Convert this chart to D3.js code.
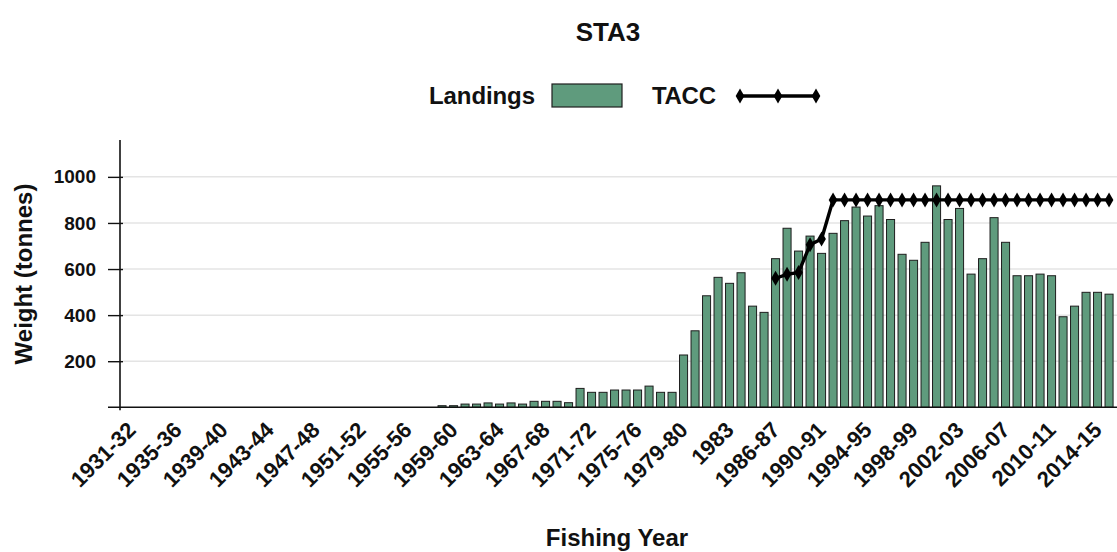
<!DOCTYPE html>
<html>
<head>
<meta charset="utf-8">
<script src="https://cdn.jsdelivr.net/npm/d3@7"></script>
<style>
  html, body { margin: 0; padding: 0; background: #fff; }
  svg { display: block; }
  text { font-family: "Liberation Sans", Arial, sans-serif; font-weight: bold; fill: #111; }
</style>
</head>
<body>
<svg id="chart" width="1117" height="552"></svg>
<script>
// ---- data ----
const years = [];
for (let y = 1931; y <= 1982; y++) years.push(y + "-" + String((y + 1) % 100).padStart(2, "0"));
years.push("1983", "1984", "1985", "1986");
for (let y = 1986; y <= 2015; y++) years.push(y + "-" + String((y + 1) % 100).padStart(2, "0"));

const landings = [
  0,0,0,0,0,0,0,0,0,0, 0,0,0,0,0,0,0,0,0,0, 0,0,0,0,0,0,0,
  7,7,14,14,19,14,19,14,26,26,26,20,
  82,65,65,75,75,75,92,65,65,
  227,332,484,564,538,584,439,412,
  645,777,678,743,668,755,810,869,830,875,815,664,638,716,961,815,863,578,645,823,716,571,571,578,571,393,439,499,499,491
];

const taccYears = years.slice(56);
const tacc = [560,577,585,705,730,900,900,900,900,900,900,900,900,900,900,900,900,900,900,900,900,900,900,900,900,900,900,900,900,900];

const yTicks = [200, 400, 600, 800, 1000];
const xTickLabels = years.filter((d, i) => i % 4 === 0);

// ---- drawing ----
const svg = d3.select("#chart");
const W = 1117, H = 552;
const x = d3.scaleBand().domain(years).range([125.8, 1114.8]).paddingInner(0.3).paddingOuter(0.15);
const y = d3.scaleLinear().domain([0, 1160]).range([407.3, 140]);
const axisLeftX = 120;

// gridlines
svg.append("g").selectAll("line").data(yTicks).join("line")
  .attr("x1", axisLeftX).attr("x2", W)
  .attr("y1", d => y(d)).attr("y2", d => y(d))
  .attr("stroke", "#e4e4e4").attr("stroke-width", 1.5);

// bars
svg.append("g").selectAll("rect").data(landings.map((v, i) => ({k: years[i], v})).filter(d => d.v > 0)).join("rect")
  .attr("x", d => x(d.k))
  .attr("width", x.bandwidth())
  .attr("y", d => y(d.v))
  .attr("height", d => y(0) - y(d.v))
  .attr("fill", "#5f9b7d")
  .attr("stroke", "#1e1e1e")
  .attr("stroke-width", 1);

// y axis
const yAxis = d3.axisLeft(y).tickValues(yTicks).tickFormat(d3.format("d")).tickSize(10).tickPadding(14);
const gy = svg.append("g").attr("transform", `translate(${axisLeftX},0)`).call(yAxis);
gy.select(".domain").attr("d", `M0,${y(1160)}V${y(0) + 3}`).attr("stroke", "#111").attr("stroke-width", 1.6);
gy.selectAll(".tick line").attr("stroke", "#111").attr("stroke-width", 1.4).attr("x2", -12).attr("x1", 3);
gy.selectAll(".tick text").attr("font-size", 19).attr("font-family", "Liberation Sans, Arial, sans-serif").attr("font-weight", "bold").attr("fill", "#111");

// x axis
const xAxis = d3.axisBottom(x).tickValues(xTickLabels).tickSize(0).tickPadding(0);
const gx = svg.append("g").attr("transform", `translate(0,${y(0)})`).call(xAxis);
gx.select(".domain").attr("d", `M108,0H${W}`).attr("stroke", "#111").attr("stroke-width", 1.6);
gx.selectAll(".tick text")
  .attr("font-size", 22).attr("font-family", "Liberation Sans, Arial, sans-serif").attr("font-weight", "bold").attr("fill", "#111")
  .attr("text-anchor", "end")
  .attr("dy", 0).attr("y", 0)
  .attr("transform", "translate(5.5,24) rotate(-45)");

// TACC line
const cx = d => x(d) + x.bandwidth() / 2;
const line = d3.line().x(d => cx(d.k)).y(d => y(d.v));
const taccData = tacc.map((v, i) => ({k: taccYears[i], v}));
svg.append("path").datum(taccData).attr("d", line)
  .attr("fill", "none").attr("stroke", "#000").attr("stroke-width", 3.4);
const diamond = d3.symbol().type(d3.symbolDiamond).size(65);
svg.append("g").selectAll("path").data(taccData).join("path")
  .attr("d", diamond)
  .attr("transform", d => `translate(${cx(d.k)},${y(d.v)})`)
  .attr("fill", "#000");

// title
svg.append("text").attr("x", 608).attr("y", 41).attr("text-anchor", "middle").attr("font-size", 26).text("STA3");

// legend
const lg = svg.append("g");
lg.append("text").attr("x", 429).attr("y", 104).attr("font-size", 24).attr("textLength", 106).text("Landings");
lg.append("rect").attr("x", 552).attr("y", 84).attr("width", 70).attr("height", 23)
  .attr("fill", "#5f9b7d").attr("stroke", "#1e1e1e").attr("stroke-width", 1.2);
lg.append("text").attr("x", 652).attr("y", 104).attr("font-size", 24).attr("textLength", 64).text("TACC");
lg.append("line").attr("x1", 739).attr("x2", 817).attr("y1", 96).attr("y2", 96).attr("stroke", "#000").attr("stroke-width", 3.4);
lg.selectAll("path.m").data([740, 778, 816]).join("path").attr("class", "m")
  .attr("d", diamond).attr("transform", d => `translate(${d},96)`).attr("fill", "#000");

// axis titles
svg.append("text").attr("x", 617).attr("y", 546).attr("text-anchor", "middle").attr("font-size", 24).text("Fishing Year");
svg.append("text").attr("transform", "translate(32,274) rotate(-90)").attr("text-anchor", "middle").attr("font-size", 24).text("Weight (tonnes)");
</script>
</body>
</html>
